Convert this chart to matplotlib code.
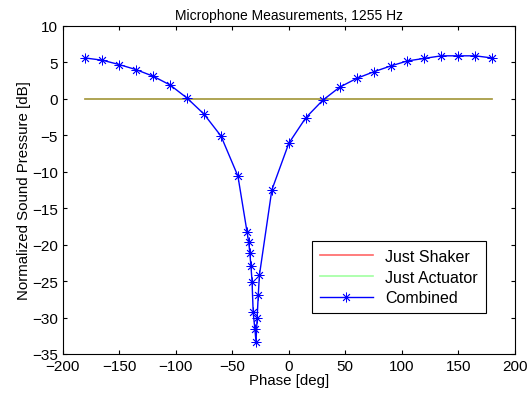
import matplotlib.pyplot as plt

plt.rcParams['font.family'] = ['Liberation Sans', 'DejaVu Sans']

# phase [deg] and normalized sound pressure [dB]
phase = [-180, -165, -150, -135, -120, -105, -90, -75, -60, -45,
         -37, -35.5, -34.5, -33.5, -32.5, -31.5, -30, -29,
         -28, -27, -26, -15, 0, 15, 30, 45, 60, 75, 90, 105,
         120, 135, 150, 165, 180]
combined = [5.6, 5.3, 4.7, 4.0, 3.1, 1.9, 0.1, -2.1, -5.1, -10.6,
            -18.2, -19.6, -21.1, -22.9, -25.1, -29.3, -31.6, -33.3,
            -30.0, -26.9, -24.2, -12.5, -6.1, -2.6, -0.2, 1.6, 2.8, 3.7, 4.5, 5.2,
            5.55, 5.9, 5.9, 5.9, 5.6]
line_phase = [-180, 180]
just_shaker = [0, 0]
just_actuator = [0, 0]

xticks = [-200, -150, -100, -50, 0, 50, 100, 150, 200]
yticks = [10, 5, 0, -5, -10, -15, -20, -25, -30, -35]

fig = plt.figure(figsize=(5.27, 4.02), dpi=100)
ax = fig.add_axes([0.119, 0.117, 0.858, 0.816])

ax.plot(line_phase, just_shaker, color='red', alpha=0.6, linewidth=1.2, label='Just Shaker')
ax.plot(line_phase, just_actuator, color='lime', alpha=0.373, linewidth=1.2, label='Just Actuator')
ax.plot(phase, combined, color='blue', linewidth=1, marker=(8, 2, 0), markersize=7,
        markeredgewidth=0.6, label='Combined')

ax.set_xlim(-200, 200)
ax.set_ylim(-35, 10)
ax.set_xticks(xticks)
ax.set_yticks(yticks)
ax.tick_params(direction='in', top=True, right=True, length=3, labelsize=11, width=0.8)
for s in ax.spines.values():
    s.set_linewidth(0.8)

ax.set_title('Microphone Measurements, 1255 Hz', fontsize=10, pad=5)
ax.set_xlabel('Phase [deg]', fontsize=10.8, labelpad=0)
ax.set_ylabel('Normalized Sound Pressure [dB]', fontsize=10.8, labelpad=1)

leg = ax.legend(loc='lower right', bbox_to_anchor=(0.954, 0.1), fontsize=11.5,
                fancybox=False, edgecolor='black', framealpha=1, handlelength=3.3,
                borderpad=0.5, labelspacing=0.35)
leg.get_frame().set_linewidth(0.8)

fig.savefig('out.png', dpi=100)
